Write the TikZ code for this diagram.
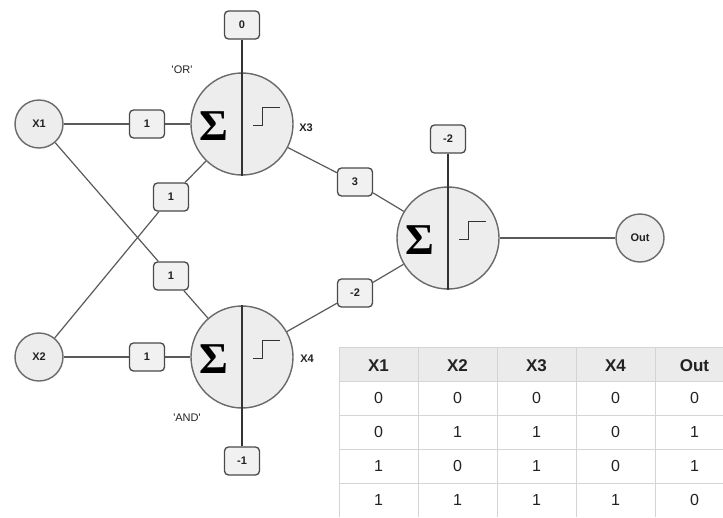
\documentclass[tikz,border=0pt]{standalone}
\usepackage{fontspec}
\setmainfont{Liberation Sans}
\newfontfamily\sigmafont{Liberation Serif}
\definecolor{edgec}{HTML}{6A6A6A}
\definecolor{boxedge}{HTML}{4A4A4A}
\definecolor{fillc}{HTML}{EDEDED}
\definecolor{boxfill}{HTML}{F1F1F1}
\definecolor{linec}{HTML}{5A5A5A}
\definecolor{divc}{HTML}{333333}
\definecolor{txtc}{HTML}{222222}
\definecolor{gridc}{HTML}{D4D4D4}
\definecolor{hdrc}{HTML}{EBEBEB}
\begin{document}
\begin{tikzpicture}[x=1pt,y=-1pt,
  inp/.style={circle, draw=edgec, line width=1.4pt, fill=fillc, minimum size=48pt, inner sep=0pt,
    font=\fontsize{11}{11}\selectfont\bfseries, text=txtc},
  neuron/.style={circle, draw=edgec, line width=1.4pt, fill=fillc, minimum size=102pt, inner sep=0pt},
  wbox/.style={rectangle, rounded corners=4pt, draw=boxedge, line width=1.3pt, fill=boxfill,
    minimum width=35pt, minimum height=28pt, inner sep=0pt,
    font=\fontsize{11}{11}\selectfont\bfseries, text=txtc},
  conn/.style={draw=linec, line width=1.2pt},
  divider/.style={draw=divc, line width=1.2pt},
  stepline/.style={draw=divc, line width=1pt},
  sigmatext/.style={font=\sigmafont\bfseries\fontsize{44}{44}\selectfont, text=black, inner sep=0pt},
  lbl/.style={font=\fontsize{11}{11}\selectfont\bfseries, text=txtc, inner sep=0pt},
  qlbl/.style={font=\fontsize{11}{11}\selectfont, text=txtc, inner sep=0pt},
  hdr/.style={font=\fontsize{17}{17}\selectfont\bfseries, text=txtc, inner sep=0pt},
  cell/.style={font=\fontsize{16}{16}\selectfont, text=txtc, inner sep=0pt}
]
\useasboundingbox (0,0) rectangle (723,517);
\fill[white] (0,0) rectangle (723,517);

% input and output nodes
\node[inp] (x1) at (39,124) {X1};
\node[inp] (x2) at (39,357) {X2};
\node[inp] (out) at (640,238) {Out};

% neurons
\node[neuron] (n3) at (242,124) {};
\node[neuron] (n4) at (242,357) {};
\node[neuron] (n5) at (448,238) {};

% weight boxes
\node[wbox] (w13) at (147,124) {1};
\node[wbox] (w23) at (171,197) {1};
\node[wbox] (w14) at (171,276) {1};
\node[wbox] (w24) at (147,357) {1};
\node[wbox] (w35) at (355,182) {3};
\node[wbox] (w45) at (355,293) {-2};

% bias boxes
\node[wbox] (b3) at (242,25) {0};
\node[wbox] (b4) at (242,461) {-1};
\node[wbox] (b5) at (448,139) {-2};

% connectors
\draw[conn] (x1) -- (w13);
\draw[conn] (w13) -- (n3);
\draw[conn] (x2) -- (w23);
\draw[conn] (w23) -- (n3);
\draw[conn] (x1) -- (w14);
\draw[conn] (w14) -- (n4);
\draw[conn] (x2) -- (w24);
\draw[conn] (w24) -- (n4);
\draw[conn] (n3) -- (w35);
\draw[conn] (w35) -- (n5);
\draw[conn] (n4) -- (w45);
\draw[conn] (w45) -- (n5);
\draw[conn] (n5) -- (out);

% dividers with bias
\draw[divider] (b3.south) -- (n3.south);
\draw[divider] (n4.north) -- (b4.north);
\draw[divider] (b5.south) -- (n5.south);

% sigma and step symbols
\foreach \n in {n3,n4,n5}{
  \node[sigmatext] at ([xshift=-28pt,yshift=-2pt]\n.center) {Σ};
  \draw[stepline] ([shift={(11,1)}]\n.center) -- ++(9,0) -- ++(0,-18) -- ++(18,0);
}

% labels
\node[qlbl] (lor) at (182,70) {\textquotesingle OR\textquotesingle};
\node[qlbl] (land) at (187,418) {\textquotesingle AND\textquotesingle};
\node[lbl] (lx3) at (306,128) {X3};
\node[lbl] (lx4) at (307,359) {X4};

% truth table
\fill[hdrc] (339,347) rectangle (723,381);
\foreach \yy in {347,381,415,449,483}{
  \draw[gridc, line width=0.9pt] (339,\yy) -- (723,\yy);
}
\foreach \xx in {339,418,497,576,655}{
  \draw[gridc, line width=0.9pt] (\xx,347) -- (\xx,517);
}
\foreach \t [count=\i] in {X1,X2,X3,X4,Out}{
  \node[hdr] (h\i) at ({339+79*(\i-1)+39.5},366) {\t};
}
\foreach \a/\b/\c/\d/\e [count=\r] in {0/0/0/0/0, 0/1/1/0/1, 1/0/1/0/1, 1/1/1/1/0}{
  \foreach \v [count=\i] in {\a,\b,\c,\d,\e}{
    \node[cell] (c\r\i) at ({339+79*(\i-1)+39.5},{364+34*\r}) {\v};
  }
}
\end{tikzpicture}
\end{document}
